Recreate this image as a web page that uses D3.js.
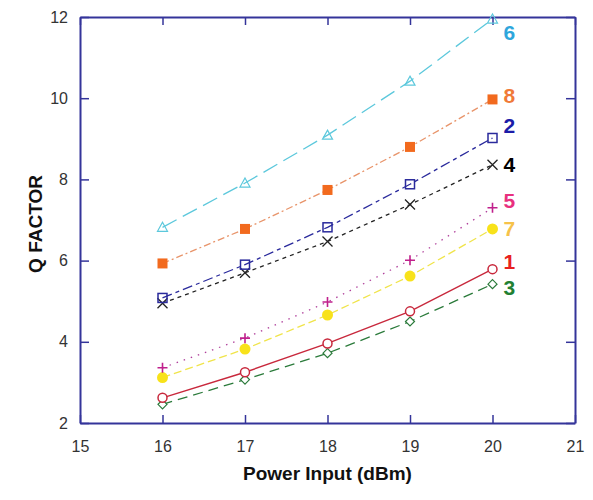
<!DOCTYPE html>
<html>
<head>
<meta charset="utf-8">
<script src="https://cdn.jsdelivr.net/npm/d3@7"></script>
<style>
  html, body { margin: 0; padding: 0; background: #fff; }
  svg { display: block; font-family: "Liberation Sans", Arial, sans-serif; }
</style>
</head>
<body>
<svg id="chart" width="593" height="500"></svg>
<script>
// ---- data ----
const powerInput = [16, 17, 18, 19, 20];
const seriesNames = ["6", "8", "2", "4", "5", "7", "1", "3"];
const s1 = [2.62, 3.25, 3.96, 4.75, 5.79];
const s2 = [5.08, 5.90, 6.82, 7.88, 9.02];
const s3 = [2.46, 3.07, 3.72, 4.50, 5.42];
const s4 = [4.95, 5.70, 6.47, 7.38, 8.36];
const s5 = [3.36, 4.09, 4.98, 6.01, 7.30];
const s6 = [6.82, 7.91, 9.09, 10.42, 11.95];
const s7 = [3.12, 3.82, 4.66, 5.62, 6.78];
const s8 = [5.93, 6.78, 7.74, 8.80, 9.97];
// where each series' label number sits (Q units)
const labelQ = { "6": 11.63, "8": 10.08, "2": 9.32, "4": 8.38, "5": 7.47, "7": 6.80, "1": 5.98, "3": 5.34 };
const xTicks = [15, 16, 17, 18, 19, 20, 21];
const yTicks = [2, 4, 6, 8, 10, 12];

const seriesData = { "1": s1, "2": s2, "3": s3, "4": s4, "5": s5, "6": s6, "7": s7, "8": s8 };

const styles = {
  "6": { color: "#5cc8dc", label: "#2ea6dc", dash: "16,7", marker: "triangle", fill: false },
  "8": { color: "#e8946a", label: "#f07a38", dash: "7,3,2,3", marker: "square", fill: true, mcolor: "#f26a1e" },
  "2": { color: "#2a2a9c", label: "#1c1ca8", dash: "10,4,4,4", marker: "square", fill: false },
  "4": { color: "#222", label: "#000", dash: "4,4", marker: "x", fill: false },
  "5": { color: "#b0409c", label: "#e8307e", dash: "1.5,6", marker: "plus", fill: false, mcolor: "#c0208c" },
  "7": { color: "#f0e44a", label: "#f6c24a", dash: "8,4", marker: "circle", fill: true, mcolor: "#f8e21a" },
  "1": { color: "#c8283c", label: "#e82020", dash: null, marker: "circle", fill: false },
  "3": { color: "#2a7a3a", label: "#228032", dash: "10,6", marker: "diamond", fill: false }
};

const svg = d3.select("#chart");
const margin = { left: 80, top: 17, right: 18, bottom: 77 };
const W = 593, H = 500;
const x = d3.scaleLinear().domain([15, 21]).range([margin.left, W - margin.right]);
const y = d3.scaleLinear().domain([2, 12]).range([H - margin.bottom, margin.top]);

const frameColor = "#34349a";

// axes
const axB = svg.append("g").attr("transform", `translate(0,${y(2)})`)
  .call(d3.axisBottom(x).tickValues(xTicks).tickSizeInner(-8).tickSizeOuter(0).tickPadding(18).tickFormat(d3.format("d")));
const axT = svg.append("g").attr("transform", `translate(0,${y(12)})`)
  .call(d3.axisTop(x).tickValues(xTicks).tickSizeInner(-8).tickSizeOuter(0).tickFormat(""));
const axL = svg.append("g").attr("transform", `translate(${x(15)},0)`)
  .call(d3.axisLeft(y).tickValues(yTicks).tickSizeInner(-9).tickSizeOuter(0).tickPadding(12).tickFormat(d3.format("d")));
const axR = svg.append("g").attr("transform", `translate(${x(21)},0)`)
  .call(d3.axisRight(y).tickValues(yTicks).tickSizeInner(-9).tickSizeOuter(0).tickFormat(""));

[axB, axT, axL, axR].forEach(a => {
  a.select(".domain").attr("stroke", frameColor).attr("stroke-width", 2);
  a.selectAll(".tick line").attr("stroke", frameColor).attr("stroke-width", 1.5);
  a.selectAll(".tick text").attr("fill", "#333").style("font-size", "16px");
});

// axis titles
svg.append("text")
  .attr("x", (x(15) + x(21)) / 2).attr("y", 480)
  .attr("text-anchor", "middle")
  .style("font-size", "19px").style("font-weight", "bold").attr("fill", "#111")
  .text("Power Input (dBm)");
svg.append("text")
  .attr("transform", `translate(42,224) rotate(-90)`)
  .attr("text-anchor", "middle")
  .style("font-size", "19px").style("font-weight", "bold").attr("fill", "#111")
  .text("Q FACTOR");

const line = d3.line().x(d => x(d[0])).y(d => y(d[1]));
const drawOrder = ["3", "1", "7", "5", "4", "2", "8", "6"];

drawOrder.forEach(name => {
  const st = styles[name];
  const pts = powerInput.map((p, i) => [p, seriesData[name][i]]);
  const g = svg.append("g");
  g.append("path").datum(pts)
    .attr("d", line)
    .attr("fill", "none")
    .attr("stroke", st.color)
    .attr("stroke-width", name === "1" ? 1.4 : 1.3)
    .attr("stroke-dasharray", st.dash);

  const mc = st.mcolor || st.color;
  const mk = g.selectAll(".m").data(pts).enter().append("g")
    .attr("transform", d => `translate(${x(d[0])},${y(d[1])})`);
  if (st.marker === "triangle") {
    mk.append("path").attr("d", "M0,-5 L5,4 L-5,4 Z").attr("fill", "none").attr("stroke", mc).attr("stroke-width", 1.2);
  } else if (st.marker === "square") {
    const s = st.fill ? 10 : 9;
    mk.append("rect").attr("x", -s / 2).attr("y", -s / 2).attr("width", s).attr("height", s)
      .attr("fill", st.fill ? mc : "none").attr("stroke", mc).attr("stroke-width", st.fill ? 0 : 1.5);
  } else if (st.marker === "x") {
    mk.append("path").attr("d", "M-5,-5 L5,5 M-5,5 L5,-5").attr("stroke", mc).attr("stroke-width", 1.3);
  } else if (st.marker === "plus") {
    mk.append("path").attr("d", "M-5,0 L5,0 M0,-5 L0,5").attr("stroke", mc).attr("stroke-width", 1.6);
  } else if (st.marker === "circle") {
    mk.append("circle").attr("r", st.fill ? 5.5 : 4.5)
      .attr("fill", st.fill ? mc : "#fff").attr("stroke", mc).attr("stroke-width", st.fill ? 0 : 1.5);
  } else if (st.marker === "diamond") {
    mk.append("path").attr("d", "M0,-4.5 L4.5,0 L0,4.5 L-4.5,0 Z").attr("fill", "#fff").attr("stroke", mc).attr("stroke-width", 1.2);
  }
});

// series labels
seriesNames.forEach(name => {
  svg.append("text")
    .attr("x", x(20) + 11)
    .attr("y", y(labelQ[name]))
    .attr("dy", "0.36em")
    .style("font-size", "21px").style("font-weight", "bold")
    .attr("fill", styles[name].label)
    .text(name);
});
</script>
</body>
</html>
